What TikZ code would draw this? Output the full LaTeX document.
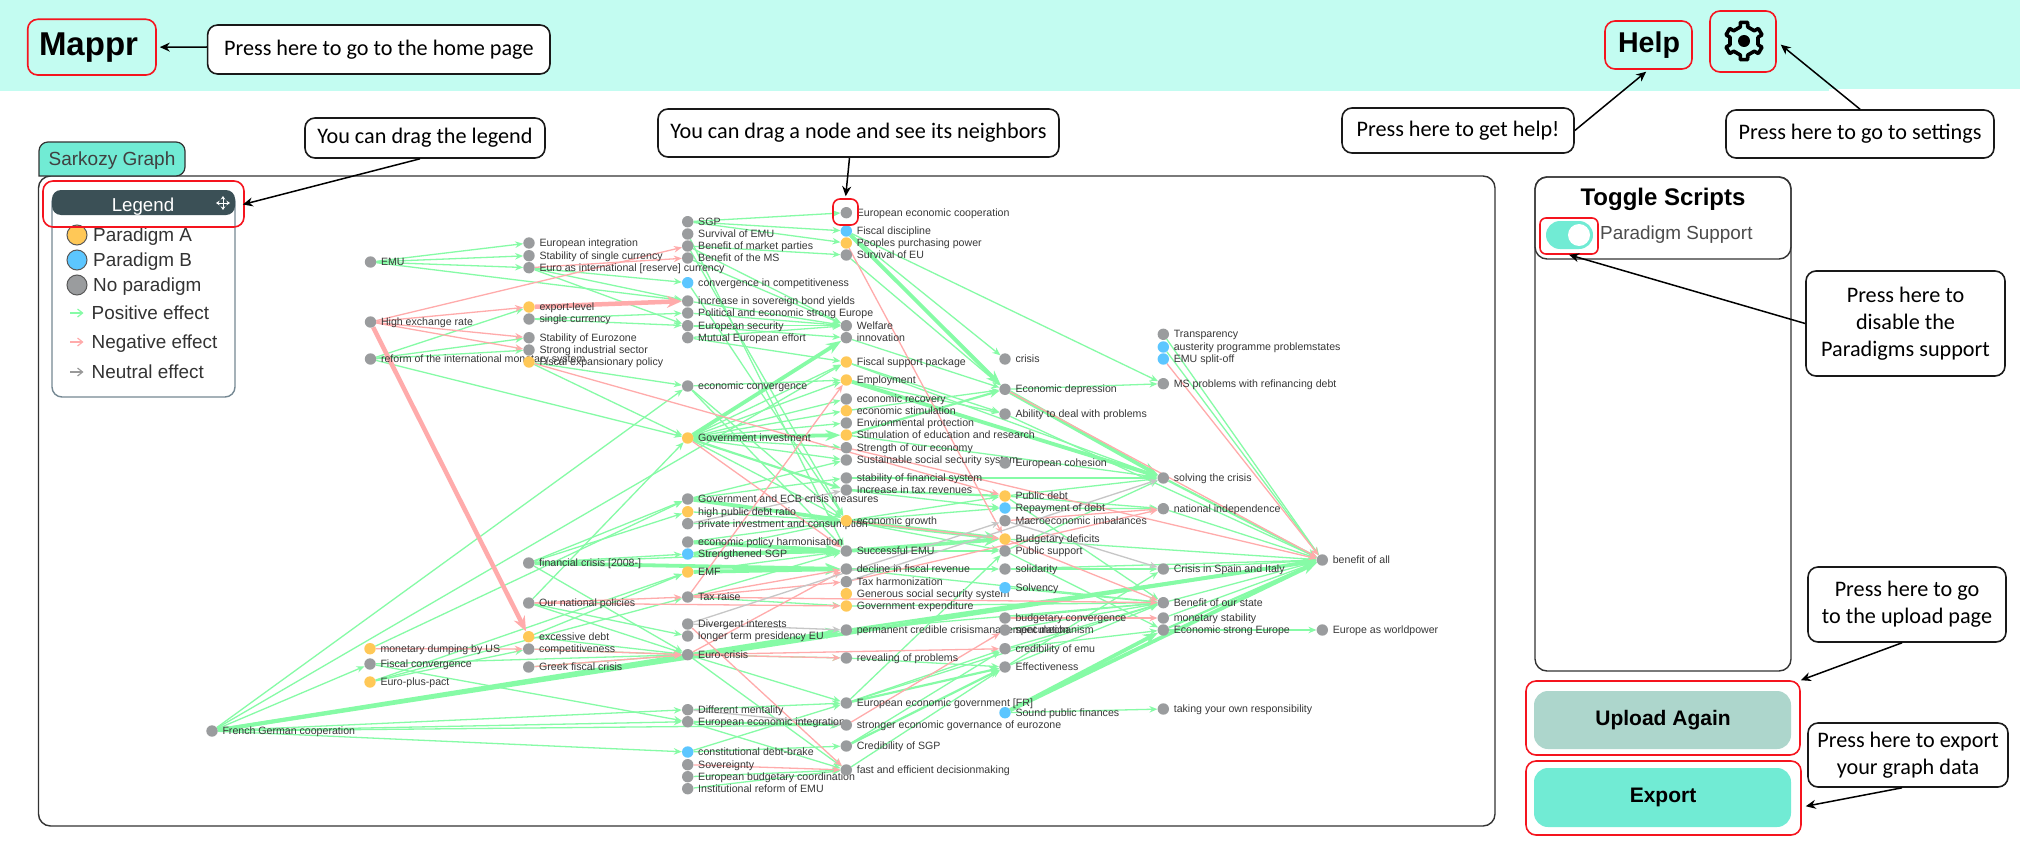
\documentclass[tikz,border=0pt]{standalone}
\usepackage{fontspec}
\setmainfont{Liberation Sans}
\newfontfamily\callfont{Carlito}
\usetikzlibrary{arrows.meta,calc}
\definecolor{bandc}{HTML}{C3FCF1}
\definecolor{tabc}{HTML}{71EBD4}
\definecolor{legc}{HTML}{3B5056}
\definecolor{upc}{HTML}{ADD6CC}
\definecolor{gry}{HTML}{9A9C9E}
\definecolor{org}{HTML}{FFC857}
\definecolor{blu}{HTML}{5CC6FF}
\definecolor{gre}{HTML}{86FBA6}
\definecolor{rdd}{HTML}{FFABAB}
\definecolor{neu}{HTML}{C6C6C6}
\definecolor{redb}{HTML}{F5141E}
\pgfdeclarelayer{bg}
\pgfsetlayers{bg,main}
\tikzset{
  gn/.style={circle,inner sep=0pt,minimum size=11.4pt,draw=none},
  glbl/.style={anchor=mid west,inner sep=0pt,font=\fontsize{10.6}{12}\selectfont,text=black!78},
  gpos/.style={draw=gre,line width=1.3pt,-{Stealth[length=8pt,width=6.5pt]}},
  gneg/.style={draw=rdd,line width=1.3pt,-{Stealth[length=8pt,width=6.5pt]}},
  gneu/.style={draw=neu,line width=1.3pt,-{Stealth[length=8pt,width=6.5pt]}},
  gposm/.style={gpos,line width=2.2pt,-{Stealth[length=10pt,width=8pt]}},
  gposb/.style={gpos,line width=3.8pt,-{Stealth[length=15pt,width=11pt]}},
  gnegb/.style={gneg,line width=4.5pt,-{Stealth[length=15pt,width=12pt]}},
  callout/.style={draw=black!90,line width=1.6pt,rounded corners=10pt,fill=white,inner sep=0pt,align=center,font=\callfont\fontsize{22.2}{27}\selectfont},
  redbox/.style={draw=redb,line width=1.6pt,rounded corners=10pt,inner sep=0pt},
  callarrow/.style={draw=black,line width=1.5pt,-{Stealth[length=10pt,width=9pt]}},
  panel/.style={draw=black!80,line width=1.4pt,rounded corners=12pt,inner sep=0pt},
}
\newcommand{\uirect}[7]{%
  \pgfmathsetmacro\uicx{(#2+#4)/2}\pgfmathsetmacro\uicy{(#3+#5)/2}%
  \pgfmathsetmacro\uiw{#4-#2}\pgfmathsetmacro\uih{#5-#3}%
  \node[#6,minimum width=\uiw pt,minimum height=\uih pt] (#1) at (\uicx,\uicy) {#7};}
\begin{document}
\begin{tikzpicture}[x=1pt,y=-1pt]
\useasboundingbox (0,0) rectangle (2020,843);
\begin{pgfonlayer}{bg}
\fill[white] (0,0) rectangle (2020,843);
\fill[bandc] (0,0) rectangle (1829,91);
\fill[bandc] (1829,0) rectangle (2020,89);
\end{pgfonlayer}
% panels
\uirect{graphbox}{38.5}{176}{1495}{826}{panel}{}
\filldraw[fill=tabc,draw=black!80,line width=1.2pt,rounded corners=9pt] (39,176) -- (39,142) -- (185,142) -- (185,176) [sharp corners] -- cycle;
\node[inner sep=0pt,text=black!75,font=\fontsize{19}{22}\selectfont] (tabtext) at (112,161) {Sarkozy Graph};
\uirect{scriptbox}{1535}{177}{1791}{671}{panel}{}
\uirect{scripthead}{1535}{177}{1791}{259}{panel}{}
\node[inner sep=0pt,font=\bfseries\fontsize{24}{28}\selectfont] (toggletitle) at (1663,199.5) {Toggle Scripts};
\uirect{togglepill}{1546}{221}{1593}{249}{fill=tabc,rounded corners=14pt,inner sep=0pt}{}
\node[circle,fill=white,inner sep=0pt,minimum size=22pt] (toggleknob) at (1579,235) {};
\node[anchor=mid west,inner sep=0pt,text=black!70,font=\fontsize{18.9}{22}\selectfont] (paradigmsupport) at (1600,237) {Paradigm Support};
% graph nodes
\foreach \i/\nx/\ny/\c/\t in {
fg/212/731/gry/French German cooperation,
emu/370.5/262/gry/EMU, hex/370.5/322/gry/High exchange rate, ref/370.5/359/gry/reform of the international monetary system,
mdu/370/648.7/org/monetary dumping by US, fco/370/664/gry/Fiscal convergence, epp/370/682/org/Euro-plus-pact,
ein/529/243/gry/European integration, ssc/529/255.7/gry/Stability of single currency, eir/529/267.7/gry/Euro as international [reserve] currency,
exl/529/307/org/export-level, sgc/529/319/gry/single currency, sez/529/337.7/gry/Stability of Eurozone, sis/529/350/gry/Strong industrial sector, fep/529/362/org/Fiscal expansionary policy,
fcr/528.7/563/gry/financial crisis [2008-], onp/528.7/603/gry/Our national policies, exd/528.7/636.7/org/excessive debt, cmp/528.7/649/gry/competitiveness, gfc/528.7/667/gry/Greek fiscal crisis,
sgp/687.7/221.7/gry/SGP, sem/687.7/234/gry/Survival of EMU, bmp/687.7/246/gry/Benefit of market parties, bms/687.7/258/gry/Benefit of the MS, cic/687.7/282.7/blu/convergence in competitiveness,
isb/687.7/301/gry/increase in sovereign bond yields, pes/687.7/313/gry/Political and economic strong Europe, ese/687.7/325.7/gry/European security, mee/687.7/337.7/gry/Mutual European effort,
eco/687.7/386/gry/economic convergence, gin/687.7/438/org/Government investment,
gec/687.7/499/gry/Government and ECB crisis measures, hpd/687.7/511.7/org/high public debt ratio, pic/687.7/523.7/gry/private investment and consumption,
eph/687.7/542/gry/economic policy harmonisation, ssg/687.7/554/blu/Strengthened SGP, emf/687.7/572/org/EMF, trs/687.7/597/gry/Tax raise,
div/687.7/624/gry/Divergent interests, ltp/687.7/636/gry/longer term presidency EU, euc/687.7/654.7/gry/Euro-crisis,
dme/687.7/709.7/gry/Different mentality, eei/687.7/721.7/gry/European economic integration, cdb/687.7/752/blu/constitutional debt-brake,
sov/687.7/764.7/gry/Sovereignty, ebc/687.7/776.7/gry/European budgetary coordination, ire/687.7/788.7/gry/Institutional reform of EMU,
eec/846.3/212.7/gry/European economic cooperation, fdi/846.3/231/blu/Fiscal discipline, ppp/846.3/243/org/Peoples purchasing power, seu/846.3/255/gry/Survival of EU,
wel/846.3/325.7/gry/Welfare, inn/846.3/337.7/gry/innovation, fsp/846.3/362/org/Fiscal support package, emp/846.3/380/org/Employment,
ere/846.3/399/gry/economic recovery, est/846.3/410.7/org/economic stimulation, epr/846.3/423/gry/Environmental protection, ser/846.3/435/org/Stimulation of education and research,
sto/846.3/447.7/gry/Strength of our economy, sss/846.3/460/gry/Sustainable social security system, sfs/846.3/478/gry/stability of financial system, itr/846.3/490/gry/Increase in tax revenues,
egr/846.3/520.7/org/economic growth, suc/846.3/551/gry/Successful EMU, dfr/846.3/569/gry/decline in fiscal revenue, tha/846.3/581.7/gry/Tax harmonization, gss/846.3/593.7/org/Generous social security system, gex/846.3/606/org/Government expenditure,
pcc/846.3/630/gry/permanent credible crisismanagement mechanism, rev/846.3/658/gry/revealing of problems, egv/846.3/703/gry/European economic government [FR], seg/846.3/725/gry/stronger economic governance of eurozone, csg/846.3/746/gry/Credibility of SGP, fed/846.3/770/gry/fast and efficient decisionmaking,
cri/1005/359/gry/crisis, edp/1005/389.3/gry/Economic depression, adp/1005/414/gry/Ability to deal with problems, coh/1005/463/gry/European cohesion,
pde/1005/496/org/Public debt, rpd/1005/508/blu/Repayment of debt, mim/1005/520.7/gry/Macroeconomic imbalances, bde/1005/539/org/Budgetary deficits, psu/1005/551/gry/Public support, sol/1005/569/gry/solidarity, slv/1005/587.7/blu/Solvency,
bco/1005/618/gry/budgetary convergence, spe/1005/630/gry/speculation, cem/1005/648.7/gry/credibility of emu, eff/1005/667/gry/Effectiveness, spf/1005/712.7/blu/Sound public finances,
tra/1163.3/334.3/gry/Transparency, aus/1163.3/347/blu/austerity programme problemstates, spl/1163.3/359/blu/EMU split-off, msp/1163.3/383.7/gry/MS problems with refinancing debt,
stc/1163.3/478/gry/solving the crisis, nid/1163.3/508.7/gry/national independence, csi/1163.3/569/gry/Crisis in Spain and Italy, bos/1163.3/602.7/gry/Benefit of our state, mst/1163.3/618/gry/monetary stability, esg/1163.3/630/gry/Economic strong Europe, toy/1163.3/709/gry/taking your own responsibility,
boa/1322.3/560/gry/benefit of all, ewp/1322.3/630/gry/Europe as worldpower%
}{
  \node[gn,fill=\c] (\i) at (\nx,\ny) {};
  \node[glbl] (\i-t) at ([xshift=10.3pt,yshift=-1pt]\i.center) {\t};
}
% edges
\begin{pgfonlayer}{bg}
\foreach \a/\b in {emu/ein,emu/ssc,emu/eir,emu/isb,ref/exl,ref/sez,ref/sis,ref/gin,fep/gin,eir/cic,eir/ese,eir/isb,sgc/pes,sgc/ese,
sgp/eec,sgp/fdi,sgp/ppp,bmp/seu,pes/wel,ese/wel,ese/inn,mee/wel,mee/fsp,isb/wel,bms/wel,bmp/wel,sem/suc,bmp/egr,cic/egr,
fg/eco,fg/fsp,fg/fco,fg/dme,fg/eei,fg/seg,fg/cdb,fco/eei,fco/euc,epp/cmp,epp/emf,epp/trs,mdu/gec,fcr/gec,fcr/hpd,fcr/ssg,fcr/suc,fcr/euc,
onp/gin,onp/ltp,onp/euc,exd/euc,exd/emf,gfc/euc,cmp/euc,euc/rev,euc/egv,euc/fed,
eco/emp,eco/egr,eco/suc,gin/emp,gin/fsp,gin/ere,gin/est,gin/epr,gin/sto,gin/sss,gin/egr,fep/eco,
gec/sfs,gec/sss,hpd/egr,pic/egr,eph/egr,ssg/egr,emf/suc,trs/gex,trs/suc,
egr/pde,egr/rpd,egr/psu,itr/rpd,emp/adp,fsp/adp,fsp/stc,ser/stc,fdi/cri,fdi/msp,seu/edp,edp/msp,inn/edp,est/edp,adp/boa,
tra/boa,aus/boa,nid/boa,csi/boa,bos/boa,mst/boa,pde/nid,pde/stc,rpd/nid,bde/boa,pde/bos,psu/esg,sol/boa,psu/stc,slv/bos,bco/bos,spe/bos,cem/bos,eff/bos,sfs/stc,
egv/cem,egv/bos,csg/cem,cdb/egv,cdb/csg,eei/fed,dme/egv,ebc/fed,ire/fed,fed/eff,egv/psu,rev/eff,pcc/bos,suc/psu,dfr/sol,dfr/bos,gex/bos,esg/ewp,spf/toy,sol/csi,eff/csi,cem/esg}
  \draw[gpos] (\a) -- (\b);
\foreach \a/\b in {itr/pde,ser/edp,gin/itr,eei/seg,csg/eff,egv/eff,stc/boa,esg/boa,pcc/boa}
  \draw[gposm] (\a) -- (\b);
\foreach \a/\b in {fg/boa,fg/pcc,fcr/dfr,gin/inn,gin/ser,gec/egr,eph/suc,ssg/suc,emf/dfr,egr/bde,suc/bde,fdi/edp,emp/stc,edp/stc,spf/esg,spf/boa}
  \draw[gposb] (\a) -- (\b);
\foreach \a/\b in {hex/bmp,hex/exl,hex/sez,hex/sis,eir/bms,fep/pde,mdu/cmp,onp/trs,onp/gex,cmp/euc,gfc/euc,euc/rev,euc/dfr,div/fed,trs/dfr,trs/tha,trs/emp,trs/bos,gin/suc,
ppp/bde,edp/boa,spl/boa,sto/boa,mim/nid,bde/bos,bco/mst,seg/spe,euc/cem,sov/fed,egr/bde,tha/nid}
  \draw[gneg] (\a) -- (\b);
\foreach \a/\b in {hex/exd,exl/isb}
  \draw[gnegb] (\a) -- (\b);
\foreach \a/\b in {div/mim,div/pcc,tha/stc,pic/itr,mim/csi,dme/seg}
  \draw[gneu] (\a) -- (\b);
\end{pgfonlayer}
% legend
\uirect{legendbody}{52}{192}{235}{397}{draw=black!45!cyan!40!gray,line width=1.4pt,rounded corners=10pt,fill=white}{}
\uirect{legendhead}{52}{190}{235}{215}{fill=legc,rounded corners=9pt}{}
\node[inner sep=0pt,text=white,font=\fontsize{18.7}{22}\selectfont] (legendtxt) at (143,206.5) {Legend};
\coordinate (mvc) at (223,203);
\foreach \dx/\dy [count=\k] in {7/0,-7/0,0/7,0/-7}{
  \coordinate (mv\k) at ($(mvc)+(\dx,\dy)$);
  \draw[white,line width=1pt,-{Stealth[length=3.5pt,width=4.5pt]}] (mvc) -- (mv\k);
}
\foreach \k/\ny/\c/\t in {a/235/org/Paradigm A,b/260/blu/Paradigm B,c/285/gry/No paradigm}{
  \node[circle,draw=black!65,line width=1pt,fill=\c,minimum size=20pt,inner sep=0pt] (leg\k) at (77,\ny) {};
  \node[anchor=mid west,inner sep=0pt,text=black!80,font=\fontsize{18.9}{22}\selectfont] (leg\k-t) at (93,\ny+4) {\t};
}
\foreach \k/\ny/\c/\t in {d/313/gre/Positive effect,e/342/rdd/Negative effect,f/372/black!40/Neutral effect}{
  \coordinate (leg\k-a) at (70,\ny);
  \coordinate (leg\k-b) at (83.5,\ny);
  \draw[draw=\c,line width=1.2pt,-{Straight Barb[length=5pt,width=8pt]}] (leg\k-a) -- (leg\k-b);
  \node[anchor=mid west,inner sep=0pt,text=black!80,font=\fontsize{18.9}{22}\selectfont] (leg\k-t) at (91.5,\ny+3.5) {\t};
}
% header texts
\node[inner sep=0pt,font=\bfseries\fontsize{33}{38}\selectfont] (mapprtxt) at (88.5,47.5) {Mappr};
\node[inner sep=0pt,font=\bfseries\fontsize{28.6}{32}\selectfont] (helptxt) at (1649,45.5) {Help};
% gear
\begin{scope}[shift={(1744,41)}]
  \coordinate (gearc) at (0,0);
  \draw[line width=3.6pt,line join=round,black] (15:14.5)
    \foreach \a in {30,90,150,210,270,330}{ -- (\a-15:14.5) -- (\a-11:19) -- (\a+11:19) -- (\a+15:14.5) } -- cycle;
  \fill[black] (gearc) circle (6);
\end{scope}
% buttons
\uirect{upbtn}{1534}{691}{1791}{749}{fill=upc,rounded corners=14pt}{}
\node[inner sep=0pt,font=\bfseries\fontsize{21}{25}\selectfont] (uptxt) at (1663,720) {Upload Again};
\uirect{expbtn}{1534}{768}{1791}{827}{fill=tabc,rounded corners=14pt}{}
\node[inner sep=0pt,font=\bfseries\fontsize{21}{25}\selectfont] (exptxt) at (1663,797) {Export};
% red boxes
\uirect{mapprbox}{27.7}{19.3}{156}{75}{redbox}{}
\uirect{legendbox}{43}{181}{244}{227}{redbox}{}
\uirect{eecbox}{833}{199}{858}{225}{redbox,rounded corners=7pt}{}
\uirect{helpbox}{1605}{21}{1692}{69}{redbox}{}
\uirect{gearbox}{1710}{11}{1776}{72}{redbox}{}
\uirect{togbox}{1540}{218}{1598}{254}{redbox,rounded corners=6pt}{}
\uirect{upbox}{1526}{681}{1800}{755}{redbox}{}
\uirect{expbox}{1526}{761}{1801}{835}{redbox}{}
% callouts
\uirect{homecall}{207.6}{25}{550}{74}{callout}{Press here to go to the home page}
\uirect{dragcall}{305}{118}{545}{158}{callout}{You can drag the legend}
\uirect{nodecall}{658}{109}{1059}{157}{callout}{You can drag a node and see its neighbors}
\uirect{helpcall}{1342}{108}{1574}{153}{callout}{Press here to get help!}
\uirect{setcall}{1726}{110}{1994}{158}{callout}{Press here to go to settings}
\uirect{discall}{1806}{271}{2005}{376}{callout}{Press here to\\disable the\\Paradigms support}
\uirect{upcall}{1808}{567}{2006}{642}{callout}{Press here to go\\to the upload page}
\uirect{expcall}{1808}{723}{2008}{787}{callout}{Press here to export\\your graph data}
% callout arrows
\draw[callarrow,shorten >=3pt] ([yshift=2.5pt]homecall.west) -- (mapprbox.east);
\draw[callarrow,shorten >=-2pt] ([xshift=-5pt]dragcall.south) -- (legendbox.east);
\draw[callarrow,shorten >=2pt] ([xshift=-9pt]nodecall.south) -- (eecbox.north);
\draw[callarrow,shorten >=3pt] (helpcall.east) -- (helpbox.south);
\draw[callarrow,shorten >=5pt] (setcall.north) -- (gearbox.east);
\draw[callarrow] (discall.west) -- (togbox.south);
\draw[callarrow] ([xshift=-5pt]upcall.south) -- (upbox.north east);
\draw[callarrow,shorten >=4pt] ([xshift=-6pt]expcall.south) -- ([yshift=-9pt]expbox.east);
\end{tikzpicture}
\end{document}
